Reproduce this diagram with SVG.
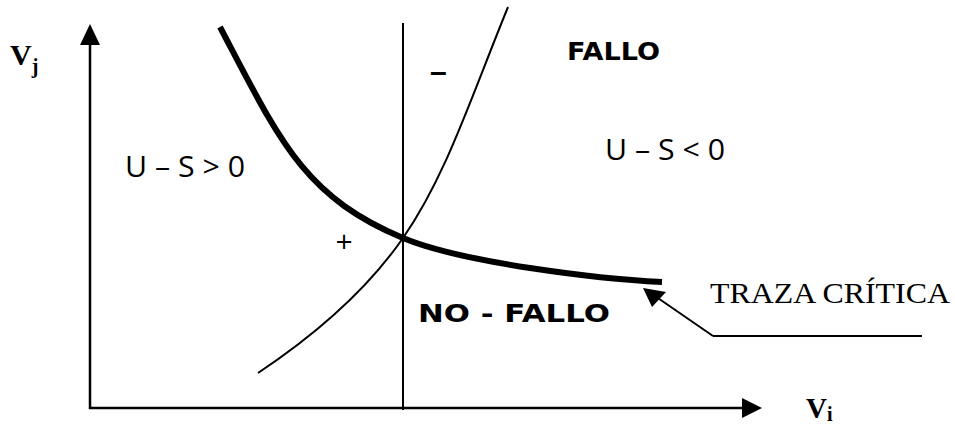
<svg xmlns="http://www.w3.org/2000/svg" width="955" height="427" viewBox="0 0 955 427">
<defs>
<style>
.ax{stroke:#000;stroke-width:2.5;fill:none}
.thin{stroke:#000;stroke-width:2;fill:none}
.thick{stroke:#000;stroke-width:6;fill:none}
.tb{font-family:"Liberation Serif",serif;font-weight:bold}
.ts{font-family:"Liberation Serif",serif}
.sb{font-family:"DejaVu Sans",sans-serif;font-weight:bold;font-size:25px}
.os{font-family:"Open Sans",sans-serif;font-size:30px}
</style>
</defs>
<rect width="955" height="427" fill="#fff"/>
<g id="connectors">
<line class="ax" x1="90" y1="409" x2="90" y2="44"/>
<polygon points="90,24 80,45 100,45"/>
<line class="ax" x1="89" y1="408" x2="743" y2="408"/>
<polygon points="762,408 742,398 742,418"/>
<line class="thin" x1="403" y1="23" x2="403" y2="410"/>
<path class="thin" d="M258,373 C300,345 360,300 403,238 S470,100 508,7"/>
<path class="thick" d="M220,27 C280,141 303,196 403,238 C463,263 600,279 662,282"/>
<line class="thin" x1="713" y1="336" x2="922" y2="336"/>
<line class="thin" x1="713" y1="336" x2="655" y2="296"/>
<polygon points="643,288 666,292 652,307"/>
</g>
<g id="labels">
<text class="tb" x="10" y="65" font-size="30">V<tspan font-size="20" dy="8">j</tspan></text>
<text class="tb" x="806" y="418" font-size="29">V<tspan font-size="20" dy="3">i</tspan></text>
<text class="sb" x="567" y="60" textLength="93" lengthAdjust="spacingAndGlyphs">FALLO</text>
<text class="sb" x="418" y="322" font-size="26" textLength="192" lengthAdjust="spacingAndGlyphs">NO - FALLO</text>
<text class="os" x="125" y="177" textLength="120" lengthAdjust="spacingAndGlyphs">U – S &gt; 0</text>
<text class="os" x="605" y="160" textLength="120" lengthAdjust="spacingAndGlyphs">U – S &lt; 0</text>
<text x="430" y="82" font-family="Liberation Sans,sans-serif" font-weight="bold" font-size="30">–</text>
<text class="os" x="344" y="252" text-anchor="middle">+</text>
<text class="ts" x="710" y="303" font-size="29" textLength="240" lengthAdjust="spacingAndGlyphs">TRAZA CRÍTICA</text>
</g>
</svg>
